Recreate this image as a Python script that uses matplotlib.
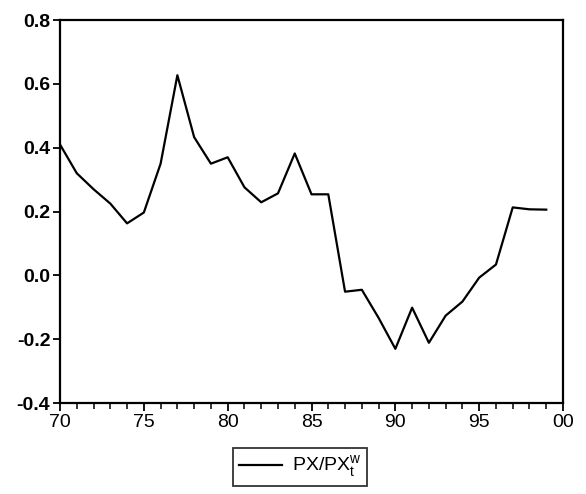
import matplotlib.pyplot as plt
from matplotlib.ticker import MultipleLocator, FixedLocator

plt.rcParams['font.family'] = ['Liberation Sans', 'DejaVu Sans']
plt.rcParams['mathtext.fontset'] = 'custom'
plt.rcParams['mathtext.rm'] = 'Liberation Sans'

years = list(range(1970, 2000))
px_ratio = [0.41, 0.32, 0.27, 0.225, 0.163, 0.197, 0.35, 0.627, 0.433, 0.35,
            0.37, 0.276, 0.229, 0.257, 0.382, 0.254, 0.254, -0.051, -0.045, -0.133,
            -0.23, -0.101, -0.211, -0.126, -0.082, -0.007, 0.034, 0.213, 0.207, 0.206]
xtick_pos = [1970, 1975, 1980, 1985, 1990, 1995, 2000]
xtick_labels = ['70', '75', '80', '85', '90', '95', '00']
yticks = [-0.4, -0.2, 0.0, 0.2, 0.4, 0.6, 0.8]

fig = plt.figure(figsize=(5.86, 4.94), dpi=100)
ax = fig.add_axes([0.1024, 0.184, 0.8584, 0.7755])

ax.plot(years, px_ratio, color='black', lw=1.6, label=r'PX/PX$_\mathrm{t}^\mathrm{w}$')

ax.set_xlim(1970, 2000)
ax.set_ylim(-0.4, 0.8)
ax.xaxis.set_major_locator(FixedLocator(xtick_pos))
ax.set_xticklabels(xtick_labels)
ax.xaxis.set_minor_locator(MultipleLocator(1))
ax.set_yticks(yticks)
ax.set_yticklabels([f'{v:.1f}' for v in yticks])

for s in ax.spines.values():
    s.set_linewidth(1.6)
ax.tick_params(which='major', direction='out', length=6, width=1.3,
               labelsize=14, pad=2)
ax.tick_params(which='minor', direction='out', length=4, width=1.1)
ax.tick_params(axis='y', length=5)
for lbl in ax.get_yticklabels():
    lbl.set_fontweight('bold')

leg = fig.legend(loc='center', bbox_to_anchor=(0.512, 0.055), frameon=True,
                 fancybox=False, edgecolor='black', fontsize=14,
                 handlelength=2.2, handletextpad=0.5, borderpad=0.3)
leg.get_frame().set_linewidth(1.3)

fig.savefig('out.png', dpi=100)
